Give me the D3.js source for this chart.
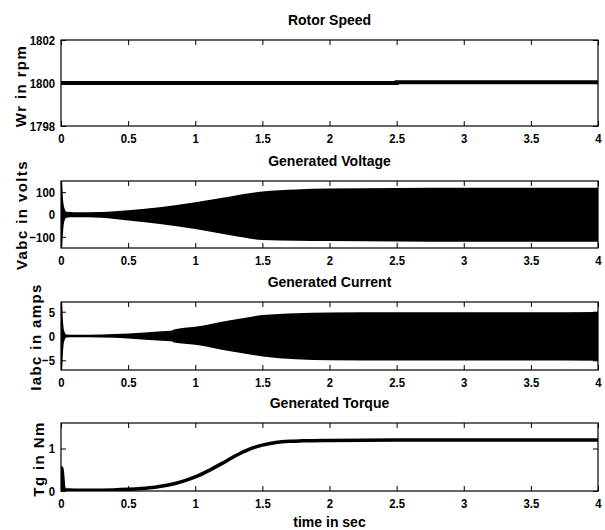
<!DOCTYPE html>
<html>
<head>
<meta charset="utf-8">
<script src="https://cdn.jsdelivr.net/npm/d3@7/dist/d3.min.js"></script>
<style>
  html, body { margin: 0; padding: 0; background: #fff; }
  svg { display: block; }
  .tick text { font-family: "Liberation Sans", Arial, sans-serif; font-weight: bold; font-size: 13.5px; fill: #000; }
  .tick line { stroke: #000; stroke-width: 1; }
  .title { font-family: "Liberation Sans", Arial, sans-serif; font-weight: bold; font-size: 14px; fill: #000; }
  .ylab { font-family: "Liberation Sans", Arial, sans-serif; font-weight: bold; font-size: 15px; letter-spacing: 1.4px; fill: #000; }
</style>
</head>
<body>
<svg id="chart" width="605" height="530"></svg>
<script>
// Shared time axis (seconds)
const timeTicks = [0, 0.5, 1, 1.5, 2, 2.5, 3, 3.5, 4];

// Rotor speed (rpm)
const speedTime = [0, 2.5, 2.5, 4];
const speedValue = [1800, 1800, 1800.03, 1800.03];
const speedTicks = [1798, 1800, 1802];

// Generated voltage: envelope of the three-phase waveform (volts)
const voltTime  = [0, 0.008, 0.015, 0.025, 0.04, 0.1, 0.3, 0.5, 0.75, 1.0, 1.25, 1.5, 1.75, 2.0, 2.5, 3.0, 3.5, 4.0];
const voltUpper = [145, 145, 70, 30, 12, 10, 11, 19, 34, 55, 80, 103, 112, 116, 119, 120, 120, 120];
const voltLower = [-150, -150, -80, -30, -14, -12, -14, -27, -44, -65, -92, -114, -118, -119, -121, -122, -122, -122];
const voltTicks = [-100, 0, 100];

// Generated current: envelope of the three-phase waveform (amps)
const currTime  = [0, 0.008, 0.015, 0.025, 0.04, 0.1, 0.3, 0.5, 0.75, 0.83, 0.84, 1.0, 1.25, 1.5, 1.75, 2.0, 2.5, 3.0, 3.5, 4.0];
const currUpper = [6.8, 6.8, 3.0, 1.0, 0.3, 0.25, 0.3, 0.5, 1.0, 1.15, 1.35, 1.9, 3.2, 4.3, 4.7, 4.85, 4.9, 4.9, 4.9, 4.95];
const currLower = [-7, -7, -3.2, -1.0, -0.3, -0.25, -0.3, -0.5, -1.0, -1.15, -1.35, -1.8, -3.1, -4.2, -4.8, -5.0, -5.05, -5.05, -5.05, -5.1];
const currTicks = [-5, 0, 5];

// Generated torque (N m)
const torqTime  = [0, 0.004, 0.008, 0.014, 0.02, 0.03, 0.1, 0.3, 0.5, 0.6, 0.7, 0.8, 0.9, 1.0, 1.1, 1.2, 1.3, 1.4, 1.5, 1.6, 1.7, 1.8, 2.0, 2.5, 3.0, 3.5, 4.0];
const torqValue = [0, 0.55, 0.5, 0.3, 0.08, 0.03, 0.02, 0.02, 0.04, 0.06, 0.09, 0.14, 0.22, 0.33, 0.48, 0.65, 0.83, 0.98, 1.08, 1.14, 1.17, 1.18, 1.19, 1.2, 1.2, 1.2, 1.2];
const torqTicks = [0, 1];

const svg = d3.select("#chart");
const left = 61, right = 598;

const x = d3.scaleLinear().domain([0, 4]).range([left, right]);

const panels = [
  { title: "Rotor Speed",       ylabel: "Wr in rpm",     top: 40,  bottom: 126, domain: [1798, 1802], ticks: speedTicks, labX: 26, labY: 86 },
  { title: "Generated Voltage", ylabel: "Vabc in volts", top: 181, bottom: 248, domain: [-150, 150],  ticks: voltTicks,  labX: 27, labY: 215 },
  { title: "Generated Current", ylabel: "Iabc in amps",  top: 302, bottom: 370, domain: [-7, 7],      ticks: currTicks,  labX: 41, labY: 337 },
  { title: "Generated Torque",  ylabel: "Tg in Nm",      top: 423, bottom: 491, domain: [0, 1.6],     ticks: torqTicks,  labX: 44, labY: 459 }
];

// Condensed look for the numeric tick labels
function condense(sel) {
  sel.selectAll(".tick text").each(function () {
    const w = this.getComputedTextLength();
    if (w > 0) {
      d3.select(this).attr("textLength", w * 0.84).attr("lengthAdjust", "spacingAndGlyphs");
    }
  });
}

panels.forEach((p, i) => {
  p.y = d3.scaleLinear().domain(p.domain).range([p.bottom, p.top]);
  const g = svg.append("g");

  g.append("clipPath").attr("id", "clip" + i)
    .append("rect").attr("x", left).attr("y", p.top)
    .attr("width", right - left).attr("height", p.bottom - p.top);

  const plot = g.append("g").attr("clip-path", "url(#clip" + i + ")");

  if (i === 0) {
    const line = d3.line().x((d, j) => x(speedTime[j])).y(d => p.y(d));
    plot.append("path").datum(speedValue).attr("d", line)
      .attr("fill", "none").attr("stroke", "#000").attr("stroke-width", 4);
  } else if (i === 1 || i === 2) {
    const tt = i === 1 ? voltTime : currTime;
    const up = i === 1 ? voltUpper : currUpper;
    const lo = i === 1 ? voltLower : currLower;
    const area = d3.area()
      .x((d, j) => x(tt[j]))
      .y0((d, j) => p.y(lo[j]))
      .y1(d => p.y(d))
      .curve(d3.curveMonotoneX);
    plot.append("path").datum(up).attr("d", area).attr("fill", "#000");
  } else {
    const line = d3.line().x((d, j) => x(torqTime[j])).y(d => p.y(d)).curve(d3.curveMonotoneX);
    plot.append("path").datum(torqValue).attr("d", line)
      .attr("fill", "none").attr("stroke", "#000").attr("stroke-width", 3.5)
      .attr("stroke-linejoin", "round");
  }

  // Inward ticks on all four sides
  const bottomAxis = g.append("g").attr("transform", `translate(0,${p.bottom})`)
    .call(d3.axisBottom(x).tickValues(timeTicks).tickSize(-5).tickPadding(7).tickFormat(d3.format("")));
  const topAxis = g.append("g").attr("transform", `translate(0,${p.top})`)
    .call(d3.axisTop(x).tickValues(timeTicks).tickSize(-5).tickFormat(""));
  const leftAxis = g.append("g").attr("transform", `translate(${left},0)`)
    .call(d3.axisLeft(p.y).tickValues(p.ticks).tickSize(-5).tickPadding(6).tickFormat(d3.format("")));
  const rightAxis = g.append("g").attr("transform", `translate(${right},0)`)
    .call(d3.axisRight(p.y).tickValues(p.ticks).tickSize(-5).tickFormat(""));
  [bottomAxis, topAxis, leftAxis, rightAxis].forEach(a => a.select(".domain").remove());
  condense(bottomAxis);
  condense(leftAxis);

  // Frame
  g.append("rect").attr("x", left).attr("y", p.top)
    .attr("width", right - left).attr("height", p.bottom - p.top)
    .attr("fill", "none").attr("stroke", "#000").attr("stroke-width", 1.2);

  // Titles and axis labels
  g.append("text").attr("class", "title")
    .attr("x", (left + right) / 2).attr("y", p.top - 15)
    .attr("text-anchor", "middle").text(p.title);

  g.append("text").attr("class", "ylab")
    .attr("transform", `translate(${p.labX},${p.labY}) rotate(-90)`)
    .attr("text-anchor", "middle").text(p.ylabel);
});

svg.append("text").attr("class", "title")
  .attr("x", (left + right) / 2).attr("y", 527)
  .attr("text-anchor", "middle").text("time in sec");
</script>
</body>
</html>
